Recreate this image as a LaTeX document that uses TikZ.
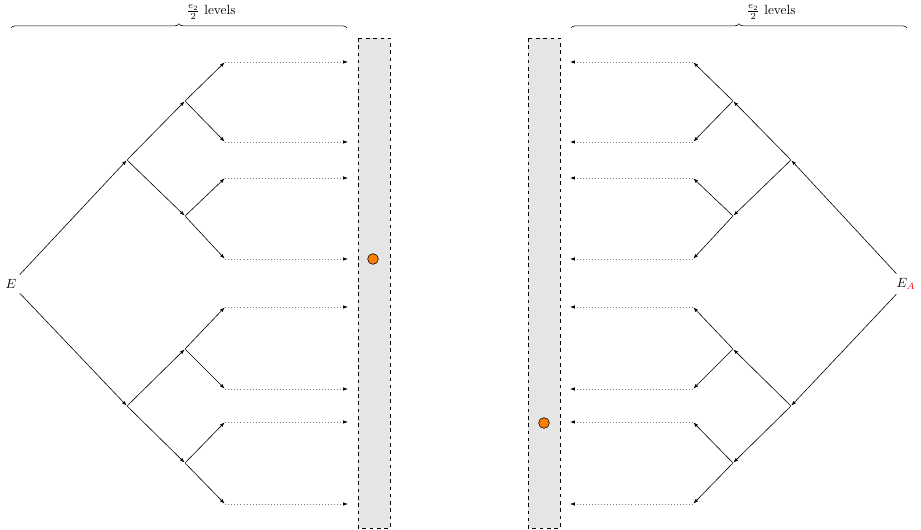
\documentclass[tikz,border=0pt]{standalone}
\usepackage{amssymb,amsmath,tikz}
\usetikzlibrary{arrows.meta,decorations.pathreplacing}
\begin{document}
\begin{tikzpicture}[x=0.029cm,y=-0.029cm,>={Latex[length=4pt,width=2.8pt]},line width=0.5pt,every node/.style={scale=1.1}]
\tikzstyle{vertex}=[inner sep=0pt,minimum size=0pt]
\tikzstyle{edge}=[draw,->]
\tikzstyle{send}=[draw,dotted,gray,-{Latex[length=4pt,width=2.8pt,black]}]
\tikzstyle{store}=[draw,dashed,semithick,fill=black!10]
\tikzstyle{token}=[circle,draw,fill=orange,minimum size=8pt,inner sep=0pt]
\tikzstyle{span}=[draw,decorate,decoration={brace,amplitude=3.5pt}]
\useasboundingbox (0,0) rectangle (921,530);
% left tree
    \node (E) at (11,284) {$E$};
    \node[vertex] (1) at (127,160) {};
    \node[vertex] (2) at (127,406) {};
    \node[vertex] (3) at (185,101) {};
    \node[vertex] (4) at (185,216) {};
    \node[vertex] (5) at (185,349) {};
    \node[vertex] (6) at (185,463) {};
    \node[vertex] (7) at (225,62) {};
    \node[vertex] (8) at (225,142) {};
    \node[vertex] (9) at (225,178) {};
    \node[vertex] (10) at (225,259) {};
    \node[vertex] (11) at (225,307) {};
    \node[vertex] (12) at (225,389) {};
    \node[vertex] (13) at (225,422) {};
    \node[vertex] (14) at (225,504) {};
    \path (E) edge [edge] (1);
    \path (E) edge [edge] (2);
    \path (1) edge [edge] (3);
    \path (1) edge [edge] (4);
    \path (2) edge [edge] (5);
    \path (2) edge [edge] (6);
    \path (3) edge [edge] (7);
    \path (3) edge [edge] (8);
    \path (4) edge [edge] (9);
    \path (4) edge [edge] (10);
    \path (5) edge [edge] (11);
    \path (5) edge [edge] (12);
    \path (6) edge [edge] (13);
    \path (6) edge [edge] (14);
    \draw[store] (358,38) rectangle (390,528);
    \foreach \i/\y in {7/62,8/142,9/178,10/259,11/307,12/389,13/422,14/504}
      {\coordinate (s\i) at (348,\y);
       \path (\i) edge [send] (s\i);}
    \node[token] (t1) at (373,259) {};
    \draw[span] (11,28) -- (347,28);
    \node (n1) at (211,12) {$\frac{e_2}{2}$ levels};
% right tree
    \node (EA) at (906,284) {$E_{\color{red}A}$};
    \node[vertex] (r1) at (791,160) {};
    \node[vertex] (r2) at (791,406) {};
    \node[vertex] (r3) at (733,101) {};
    \node[vertex] (r4) at (733,216) {};
    \node[vertex] (r5) at (733,349) {};
    \node[vertex] (r6) at (733,463) {};
    \node[vertex] (r7) at (693,62) {};
    \node[vertex] (r8) at (693,142) {};
    \node[vertex] (r9) at (693,178) {};
    \node[vertex] (r10) at (693,259) {};
    \node[vertex] (r11) at (693,307) {};
    \node[vertex] (r12) at (693,389) {};
    \node[vertex] (r13) at (693,422) {};
    \node[vertex] (r14) at (693,504) {};
    \path (EA) edge [edge] (r1);
    \path (EA) edge [edge] (r2);
    \path (r1) edge [edge] (r3);
    \path (r1) edge [edge] (r4);
    \path (r2) edge [edge] (r5);
    \path (r2) edge [edge] (r6);
    \path (r3) edge [edge] (r7);
    \path (r3) edge [edge] (r8);
    \path (r4) edge [edge] (r9);
    \path (r4) edge [edge] (r10);
    \path (r5) edge [edge] (r11);
    \path (r5) edge [edge] (r12);
    \path (r6) edge [edge] (r13);
    \path (r6) edge [edge] (r14);
    \draw[store] (528,38) rectangle (560,528);
    \foreach \i/\y in {7/62,8/142,9/178,10/259,11/307,12/389,13/422,14/504}
      {\coordinate (rs\i) at (570,\y);
       \path (r\i) edge [send] (rs\i);}
    \node[token] (t2) at (544,423) {};
    \draw[span] (571,28) -- (907,28);
    \node (n2) at (771,12) {$\frac{e_2}{2}$ levels};
\end{tikzpicture}
\end{document}
